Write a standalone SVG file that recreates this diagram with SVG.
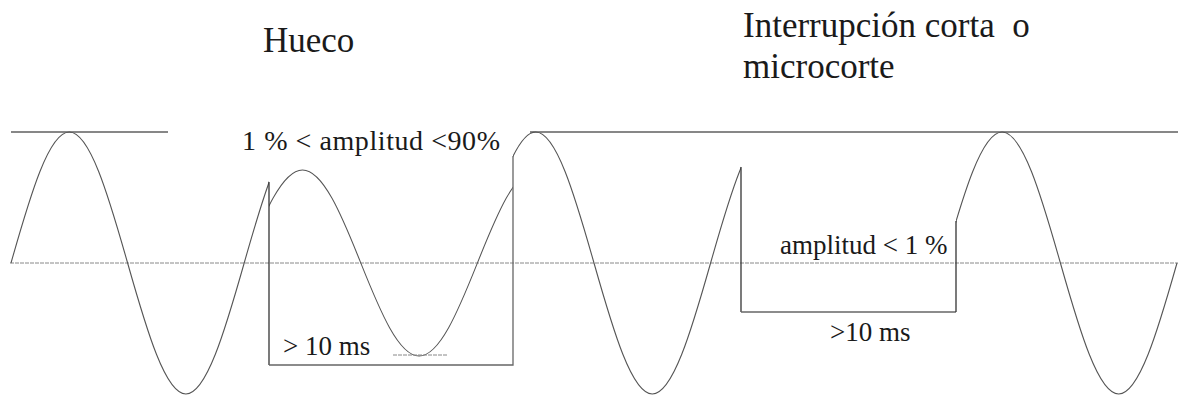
<svg xmlns="http://www.w3.org/2000/svg" xmlns:xlink="http://www.w3.org/1999/xlink" width="1183" height="396" viewBox="0 0 1183 396">
  <style>
    .txt { font-family: "Liberation Serif", "Times New Roman", serif; fill: #1a1a1a; }
    .big { font-size: 35px; }
    .small { font-size: 27px; }
    .wave { fill: none; stroke: #555; stroke-width: 1.1; }
    .ref { fill: none; stroke: #111; stroke-width: 1.2; }
    .base { fill: none; stroke: #888; stroke-width: 1; stroke-dasharray: 4 1; }
    .box { fill: none; stroke: #333; stroke-width: 1.3; }
    .boxg { fill: none; stroke: #666; stroke-width: 1.3; }
  </style>
  <defs>
    <path id="sine" d="M11,263 C30.49,194.21 49,132 69.3,132 S108.11,194.21 127.6,263 S165.6,394 185.9,394 S224.71,331.79 244.2,263 S282.2,132 302.5,132 S341.31,194.21 360.8,263 S398.8,394 419.1,394 S457.91,331.79 477.4,263 S515.4,132 535.7,132 S574.51,194.21 594,263 S632,394 652.3,394 S691.11,331.79 710.6,263 S748.6,132 768.9,132 S807.71,194.21 827.2,263 S865.2,394 885.5,394 S924.31,331.79 943.8,263 S981.8,132 1002.1,132 S1040.91,194.21 1060.4,263 S1098.4,394 1118.7,394 S1157.51,331.79 1177,263"/>
    <clipPath id="clipFull">
      <rect x="0" y="0" width="269" height="396"/>
      <rect x="513" y="0" width="228" height="396"/>
      <rect x="956" y="0" width="227" height="396"/>
    </clipPath>
    <clipPath id="clipSag">
      <rect x="269" y="0" width="244" height="396"/>
    </clipPath>
  </defs>

  <g id="reference-lines">
    <line class="base" x1="10" y1="263" x2="1178" y2="263"/>
    <line class="ref" x1="11" y1="132" x2="168" y2="132"/>
    <line class="ref" x1="530" y1="132" x2="1178" y2="132"/>
  </g>

  <g id="waveform">
    <use xlink:href="#sine" href="#sine" class="wave" clip-path="url(#clipFull)"/>
    <g clip-path="url(#clipSag)">
      <use xlink:href="#sine" href="#sine" class="wave" vector-effect="non-scaling-stroke" transform="translate(0,263) scale(1,0.71) translate(0,-263)"/>
    </g>
    <line class="base" x1="393" y1="355" x2="447" y2="355"/>
  </g>

  <g id="connectors">
    <polyline class="box" points="269,182 269,365"/>
    <polyline class="boxg" points="269,365 513,365 513,156"/>
    <polyline class="box" points="741,167 741,312"/>
    <polyline class="boxg" points="741,312 956,312"/>
    <polyline class="box" points="956,312 956,221"/>
  </g>

  <g id="title-hueco">
    <text class="txt big" x="263" y="52">Hueco</text>
  </g>
  <g id="title-interrupcion">
    <text class="txt big" x="743" y="37" xml:space="preserve">Interrupción corta  o</text>
    <text class="txt big" x="743" y="78">microcorte</text>
  </g>
  <g id="label-sag-amplitude">
    <text class="txt" x="242" y="150" font-size="28" textLength="258" lengthAdjust="spacing">1 % &lt; amplitud &lt;90%</text>
  </g>
  <g id="label-sag-duration">
    <text class="txt small" x="283" y="355">&gt; 10 ms</text>
  </g>
  <g id="label-int-amplitude">
    <text class="txt small" x="780" y="254">amplitud &lt; 1 %</text>
  </g>
  <g id="label-int-duration">
    <text class="txt small" x="830" y="341">&gt;10 ms</text>
  </g>
</svg>
